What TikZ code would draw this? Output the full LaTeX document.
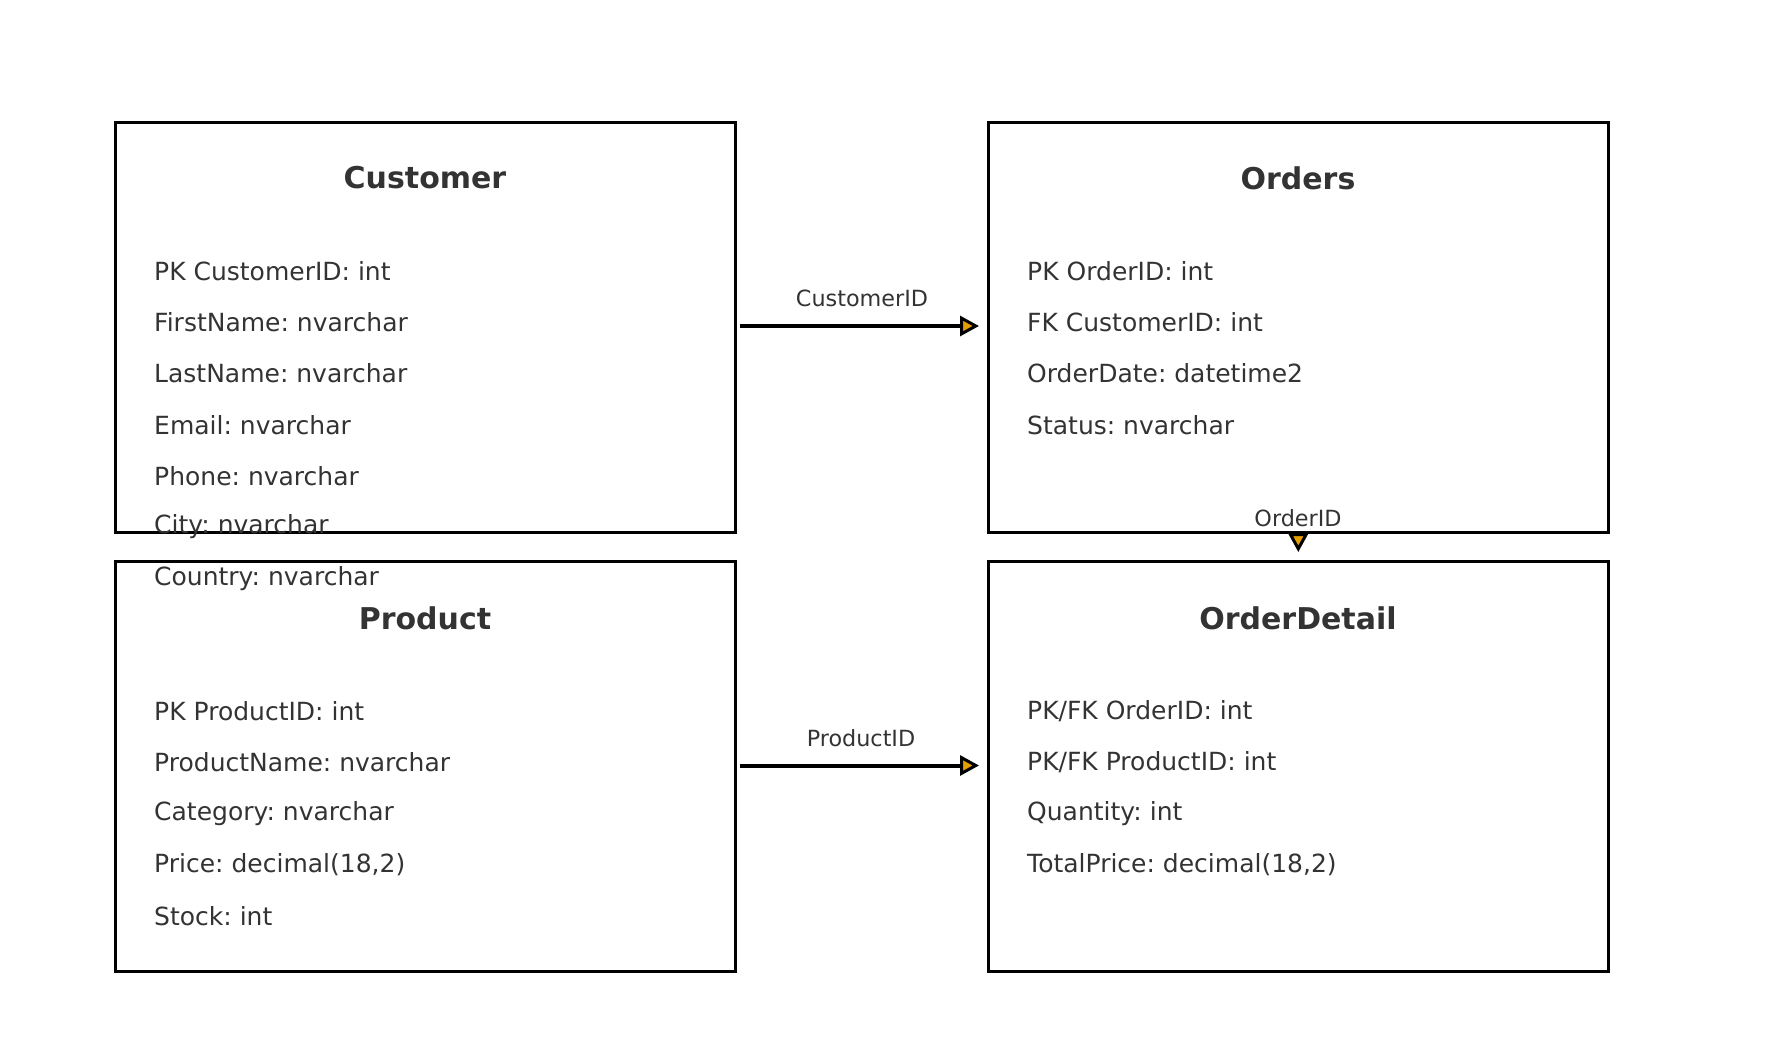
\documentclass[tikz,border=0pt]{standalone}
\usepackage{fontspec}
\setmainfont{DejaVu Sans}
\frenchspacing
\usetikzlibrary{arrows.meta}
\definecolor{txt}{HTML}{333333}
\definecolor{tipfill}{HTML}{E69F00}
\begin{document}
\begin{tikzpicture}[x=1pt,y=-1pt,
  entity/.style={draw=black,line width=2.6pt,anchor=north west,minimum width=620pt,minimum height=410pt,inner sep=0pt},
  title/.style={text=txt,inner sep=0pt,font=\bfseries\fontsize{30}{34}\selectfont},
  field/.style={text=txt,inner sep=0pt,anchor=west,font=\fontsize{25}{30}\selectfont},
  lbl/.style={text=txt,inner sep=0pt,font=\fontsize{22.3}{26}\selectfont},
  rel/.style={line width=4pt,-{Triangle[length=19pt,width=20pt,fill=tipfill,line width=3pt]},shorten <=3pt,shorten >=8pt}]
\useasboundingbox (0,0) rectangle (1781,1062);
\node[entity] (cust) at (114,121) {};
\node[entity] (ord) at (987,121) {};
\node[entity] (prod) at (114,560) {};
\node[entity] (od) at (987,560) {};
% titles
\node[title] (custT) at (425,178) {Customer};
\node[title] (ordT) at (1298,178) {Orders};
\node[title] (prodT) at (425,618) {Product};
\node[title] (odT) at (1298,618) {OrderDetail};
% customer fields
\node[field] (c1) at (154,271) {PK CustomerID: int};
\node[field] (c2) at (154,322) {FirstName: nvarchar};
\node[field] (c3) at (154,373.5) {LastName: nvarchar};
\node[field] (c4) at (154,425) {Email: nvarchar};
\node[field] (c5) at (154,476) {Phone: nvarchar};
\node[field] (c6) at (154,527) {City: nvarchar};
\node[field] (c7) at (154,578.5) {Country: nvarchar};
% orders fields
\node[field] (o1) at (1027,271) {PK OrderID: int};
\node[field] (o2) at (1027,322) {FK CustomerID: int};
\node[field] (o3) at (1027,373.5) {OrderDate: datetime2};
\node[field] (o4) at (1027,425) {Status: nvarchar};
% product fields
\node[field] (p1) at (154,711) {PK ProductID: int};
\node[field] (p2) at (154,762) {ProductName: nvarchar};
\node[field] (p3) at (154,813.5) {Category: nvarchar};
\node[field] (p4) at (154,865) {Price: decimal(18,2)};
\node[field] (p5) at (154,916) {Stock: int};
% orderdetail fields
\node[field] (d1) at (1027,711) {PK/FK OrderID: int};
\node[field] (d2) at (1027,762) {PK/FK ProductID: int};
\node[field] (d3) at (1027,813.5) {Quantity: int};
\node[field] (d4) at (1027,865) {TotalPrice: decimal(18,2)};
% relations
\draw[rel] (cust.east |- 0,326) coordinate (a1) -- (ord.west |- a1);
\node[lbl] (l1) at (862,298.5) {CustomerID};
\draw[rel] (prod.east |- 0,765.5) coordinate (a2) -- (od.west |- a2);
\node[lbl] (l2) at (861,738.5) {ProductID};
\draw[rel,shorten <=4pt] (ord.south) -- (od.north);
\node[lbl] (l3) at (1298,518.5) {OrderID};
\end{tikzpicture}
\end{document}
